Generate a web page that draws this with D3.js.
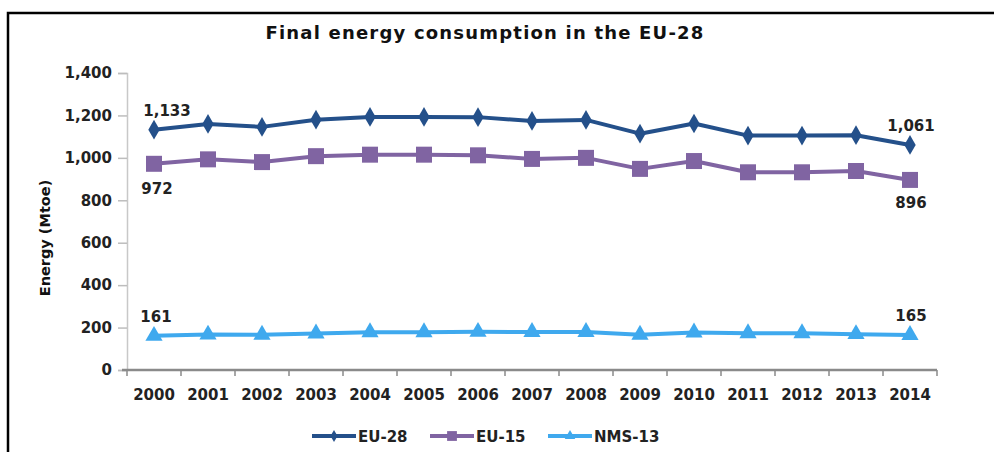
<!DOCTYPE html>
<html>
<head>
<meta charset="utf-8">
<script src="https://cdn.jsdelivr.net/npm/d3@7"></script>
<style>
  html, body { margin: 0; padding: 0; background: #fff; }
  svg { display: block; font-family: "DejaVu Sans", Verdana, sans-serif; }
</style>
</head>
<body>
<svg id="chart" width="994" height="452"></svg>
<script>
const years = ["2000","2001","2002","2003","2004","2005","2006","2007","2008","2009","2010","2011","2012","2013","2014"];
const eu28 = [1133, 1160, 1146, 1180, 1193, 1193, 1192, 1174, 1179, 1114, 1162, 1105, 1105, 1107, 1061];
const eu15 = [972, 993, 980, 1008, 1015, 1015, 1012, 995, 1000, 948, 985, 932, 932, 938, 896];
const nms13 = [161, 167, 166, 172, 178, 178, 180, 179, 179, 166, 177, 173, 173, 169, 165];
const yTicks = [0, 200, 400, 600, 800, 1000, 1200, 1400];

const series = [
  { name: "EU-28", values: eu28, color: "#24508a", symbol: d3.symbolDiamond, size: 70 },
  { name: "EU-15", values: eu15, color: "#8064a2", symbol: d3.symbolSquare, size: 160 },
  { name: "NMS-13", values: nms13, color: "#3fa9ee", symbol: d3.symbolTriangle, size: 80 }
];

const svg = d3.select("#chart");
const fmt = d3.format(",");
const FONT = "'DejaVu Sans', Verdana, sans-serif";

// frame (top and left edges visible)
svg.append("path")
  .attr("d", "M8,452 L8,13 L994,13")
  .attr("fill", "none")
  .attr("stroke", "#000")
  .attr("stroke-width", 2.5);

svg.append("text")
  .attr("x", 485).attr("y", 39)
  .attr("text-anchor", "middle")
  .attr("font-family", FONT)
  .attr("font-weight", "bold")
  .attr("font-size", 18)
  .attr("letter-spacing", 1.2)
  .attr("fill", "#111")
  .text("Final energy consumption in the EU-28");

const x = d3.scaleBand().domain(years).range([127, 937]);
const y = d3.scaleLinear().domain([0, 1400]).range([370, 73]);
const cx = d => x(d) + x.bandwidth() / 2;

// y axis
const yAxis = svg.append("g")
  .attr("transform", "translate(127,0)")
  .call(d3.axisLeft(y).tickValues(yTicks).tickFormat(fmt).tickSize(9).tickPadding(6))
  .attr("font-family", FONT)
  .attr("font-size", 15)
  .attr("font-weight", "bold");
yAxis.select(".domain").attr("stroke", "#c8c8c8").attr("stroke-width", 1.5);
yAxis.selectAll(".tick line").attr("stroke", "#bdbdbd").attr("stroke-width", 1.5);
yAxis.selectAll(".tick text").attr("fill", "#222");

// x axis
const xAxis = svg.append("g")
  .attr("transform", "translate(0,370)")
  .call(d3.axisBottom(x).tickSize(0).tickPadding(19))
  .attr("font-family", FONT)
  .attr("font-size", 15)
  .attr("font-weight", "bold");
xAxis.select(".domain").attr("stroke", "#8a8a8a").attr("stroke-width", 2.5)
  .attr("d", "M122,0H937");
xAxis.selectAll(".tick text").attr("fill", "#222");
xAxis.selectAll(".bound")
  .data(years.concat(["end"]))
  .join("line")
  .attr("class", "bound")
  .attr("x1", (d, i) => 127 + i * x.bandwidth())
  .attr("x2", (d, i) => 127 + i * x.bandwidth())
  .attr("y1", 0).attr("y2", 6)
  .attr("stroke", "#8a8a8a").attr("stroke-width", 1.5);

svg.append("text")
  .attr("transform", "translate(50,238) rotate(-90)")
  .attr("text-anchor", "middle")
  .attr("font-family", FONT)
  .attr("font-weight", "bold")
  .attr("font-size", 14.5)
  .attr("fill", "#111")
  .text("Energy (Mtoe)");

// lines and markers
const line = d3.line().x((d, i) => cx(years[i])).y(d => y(d));
series.forEach(s => {
  const g = svg.append("g");
  g.append("path")
    .datum(s.values)
    .attr("d", line)
    .attr("fill", "none")
    .attr("stroke", s.color)
    .attr("stroke-width", 4)
    .attr("stroke-linejoin", "round");
  g.selectAll(".mark")
    .data(s.values)
    .join("path")
    .attr("class", "mark")
    .attr("transform", (d, i) => `translate(${cx(years[i])},${y(d)})`)
    .attr("d", d3.symbol().type(s.symbol).size(s.size * 1.6))
    .attr("fill", s.color);
});

// end labels
const labels = [
  { v: eu28, i: 0, dx: 13, dy: -14 },
  { v: eu15, i: 0, dx: 3, dy: 30 },
  { v: nms13, i: 0, dx: 2, dy: -14 },
  { v: eu28, i: years.length - 1, dx: 1, dy: -14 },
  { v: eu15, i: years.length - 1, dx: 1, dy: 28 },
  { v: nms13, i: years.length - 1, dx: 1, dy: -14 }
];
svg.selectAll(".dlabel")
  .data(labels)
  .join("text")
  .attr("class", "dlabel")
  .attr("x", d => cx(years[d.i]) + d.dx)
  .attr("y", d => y(d.v[d.i]) + d.dy)
  .attr("text-anchor", "middle")
  .attr("font-family", FONT)
  .attr("font-size", 15)
  .attr("font-weight", "bold")
  .attr("fill", "#222")
  .text(d => fmt(d.v[d.i]));

// legend
const legendX = [312, 430, 548];
const legend = svg.selectAll(".legend")
  .data(series)
  .join("g")
  .attr("class", "legend")
  .attr("transform", (d, i) => `translate(${legendX[i]},436)`);
legend.append("line")
  .attr("x1", 0).attr("x2", 44)
  .attr("stroke", d => d.color).attr("stroke-width", 4);
legend.append("path")
  .attr("transform", "translate(22,0)")
  .attr("d", d => d3.symbol().type(d.symbol).size(d.size * 0.6)())
  .attr("fill", d => d.color);
legend.append("text")
  .attr("x", 46).attr("y", 5.5)
  .attr("font-family", FONT)
  .attr("font-size", 15)
  .attr("font-weight", "bold")
  .attr("fill", "#222")
  .text(d => d.name);
</script>
</body>
</html>
